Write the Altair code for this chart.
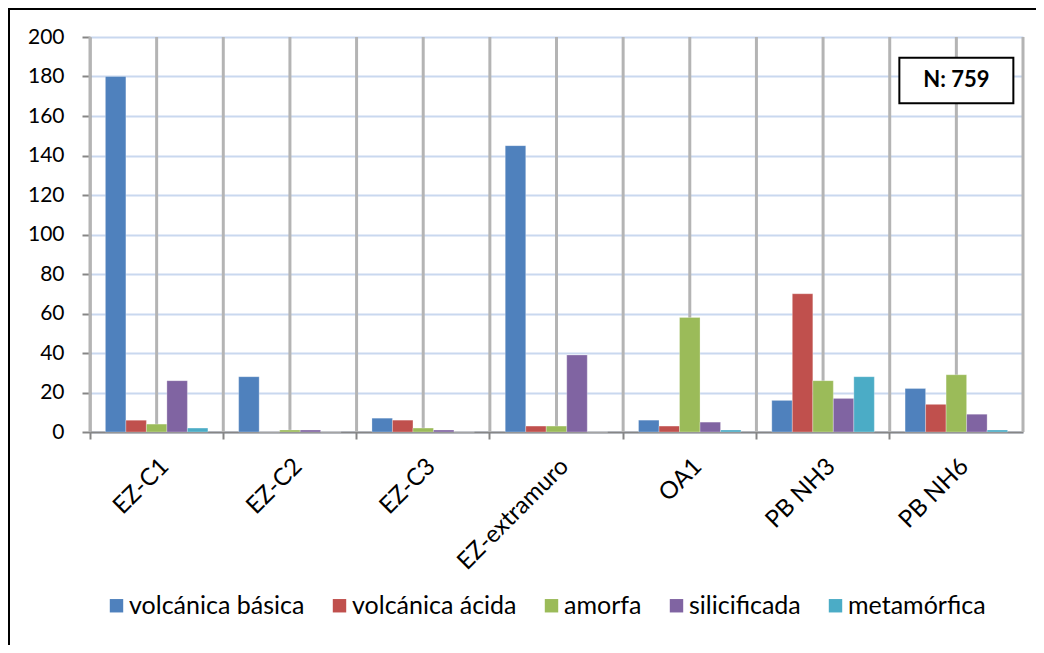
import altair as alt
import pandas as pd

categories = ["EZ-C1", "EZ-C2", "EZ-C3", "EZ-extramuro", "OA1", "PB NH3", "PB NH6"]
series = ["volcánica básica", "volcánica ácida", "amorfa", "silicificada", "metamórfica"]
volcanica_basica = [180, 28, 7, 145, 6, 16, 22]
volcanica_acida = [6, 0, 6, 3, 3, 70, 14]
amorfa = [4, 1, 2, 3, 58, 26, 29]
silicificada = [26, 1, 1, 39, 5, 17, 9]
metamorfica = [2, 0, 0, 0, 1, 28, 1]
colors = ["#4F81BD", "#C0504D", "#9BBB59", "#8064A2", "#4BACC6"]
y_ticks = list(range(0, 201, 20))
note_text = "N: 759"
note_category = "PB NH6"
note_value = 178

values = [volcanica_basica, volcanica_acida, amorfa, silicificada, metamorfica]
rows = []
for s, vals in zip(series, values):
    for c, v in zip(categories, vals):
        rows.append({"categoria": c, "serie": s, "valor": v})
df = pd.DataFrame(rows)

FONT = "Lato"
W, H = 933, 395

# vertical gridlines at category boundaries and centres (in category units)
grid_pos = [i * 0.5 for i in range(2 * len(categories) + 1)]
vgrid = alt.Chart(pd.DataFrame({"g": grid_pos})).mark_rule(
    color="#b4b4b4", strokeWidth=3
).encode(
    x=alt.X("g:Q", scale=alt.Scale(domain=[0, len(categories)], nice=False, zero=False), axis=None)
)

xscale = alt.Scale(domain=categories, paddingInner=0, paddingOuter=0)
yscale = alt.Scale(domain=[0, 200], nice=False)

x_enc = alt.X(
    "categoria:N",
    sort=categories,
    scale=xscale,
    title=None,
    axis=alt.Axis(
        bandPosition=0,
        grid=False,
        labelAngle=-45,
        labelFontSize=24,
        labelFont=FONT,
        labelColor="#000000",
        labelPadding=15,
        tickSize=7,
        tickColor="#868686",
        tickWidth=2,
        domainColor="#868686",
        domainWidth=2,
    ),
)
y_enc = alt.Y(
    "valor:Q",
    scale=yscale,
    title=None,
    axis=alt.Axis(
        values=y_ticks,
        labelOverlap=False,
        grid=True,
        gridColor="#c9d8ef",
        gridWidth=2,
        labelFontSize=21,
        labelFont=FONT,
        labelColor="#000000",
        labelPadding=18,
        tickSize=8,
        tickColor="#868686",
        tickWidth=2,
        domainColor="#868686",
        domainWidth=2,
    ),
)

bars = alt.Chart(df).mark_bar(stroke="#ffffff", strokeOpacity=0.35, strokeWidth=0.8).encode(
    x=x_enc,
    xOffset=alt.XOffset(
        "serie:N", sort=series, scale=alt.Scale(domain=series, paddingOuter=0.75, paddingInner=0)
    ),
    y=y_enc,
    color=alt.Color(
        "serie:N",
        sort=series,
        scale=alt.Scale(domain=series, range=colors),
        legend=alt.Legend(
            title=None,
            orient="none",
            direction="horizontal",
            legendX=14,
            legendY=556,
            symbolType="square",
            symbolSize=180,
            symbolStrokeWidth=0,
            labelFontSize=25,
            labelFont=FONT,
            labelColor="#000000",
            labelLimit=0,
            columnPadding=22,
            labelOffset=0,
        ),
    ),
)

note_df = pd.DataFrame({"categoria": [note_category], "valor": [note_value], "texto": [note_text]})
note_box = alt.Chart(note_df).mark_point(
    shape="M-1,-0.4H1V0.4H-1Z", size=12996, filled=True, fill="white", stroke="black",
    strokeWidth=2, opacity=1
).encode(x=x_enc, y=y_enc)
note_label = alt.Chart(note_df).mark_text(
    font=FONT, fontSize=22, fontWeight="bold", color="black"
).encode(x=x_enc, y=y_enc, text="texto:N")

frame = alt.Chart(pd.DataFrame({"a": [0]})).mark_rect(
    fill=None, stroke="black", strokeWidth=2
).encode(
    x=alt.value(-81), x2=alt.value(2000), y=alt.value(-28), y2=alt.value(2000)
)

inner = alt.layer(bars, note_box, note_label)

chart = alt.layer(vgrid, inner, frame).resolve_scale(
    x="independent"
).properties(
    width=W,
    height=H,
    padding={"left": 82, "top": 29, "right": 13, "bottom": 213},
    autosize=alt.AutoSizeParams(type="none"),
    background="white",
).configure_view(stroke=None)

chart.save("out.html", embed_options={"renderer": "svg", "actions": False})
